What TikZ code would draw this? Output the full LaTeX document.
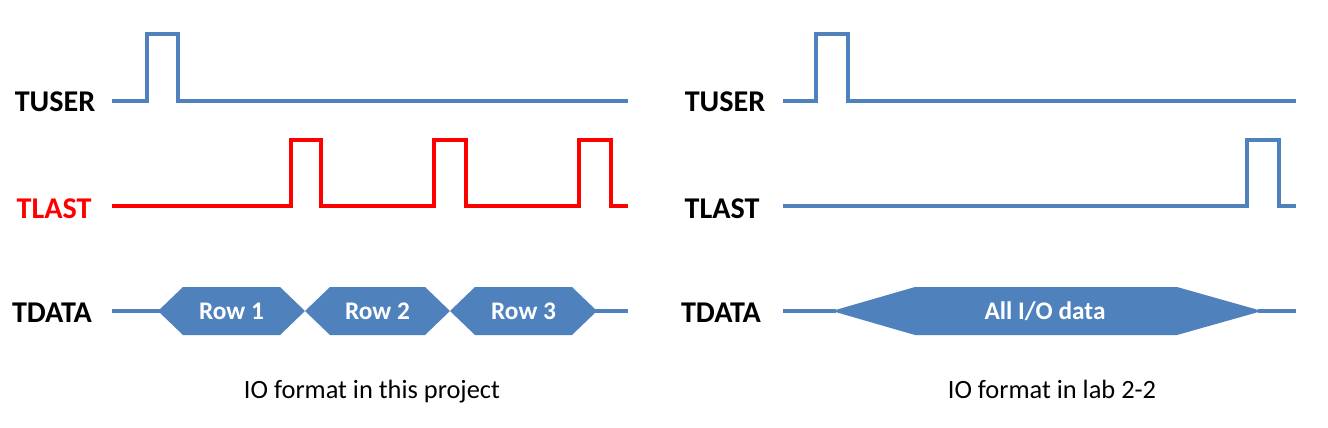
\documentclass[tikz,border=0pt]{standalone}
\usepackage{fontspec}
\setmainfont{Carlito}
\usepackage{tikz}
\usetikzlibrary{positioning}
\definecolor{sigblue}{RGB}{79,129,189}
\definecolor{sigred}{RGB}{255,0,0}

\begin{document}
\begin{tikzpicture}[x=0.75pt,y=-0.75pt,
  wave/.style={line width=3.4pt,line join=miter,draw=sigblue},
  sig/.style={anchor=base,font=\bfseries\fontsize{22.6}{25}\selectfont},
  rowtxt/.style={text=white,font=\bfseries\fontsize{19}{21}\selectfont},
  capt/.style={anchor=base,font=\fontsize{19.8}{22}\selectfont}]
  \useasboundingbox (0,0) rectangle (1328,428);
%  left panel: this project
  \node[sig] (uL) at (55,112) {TUSER};
  \node[sig,text=sigred] (lL) at (54,218) {TLAST};
  \node[sig] (dL) at (52,322) {TDATA};
  \draw[wave] (112,101) -- (147,101) -- (147,34) -- (178,34) -- (178,101) -- (628,101);
  \draw[wave,draw=sigred] (112,206) -- (291,206) -- (291,140) -- (321,140) -- (321,206)
     -- (434,206) -- (434,140) -- (466,140) -- (466,206)
     -- (579,206) -- (579,140) -- (611,140) -- (611,206) -- (628,206);
  \draw[wave] (112,311) -- (160,311);
  \draw[wave] (595,311) -- (628,311);
  \foreach \a/\b/\n/\t in {158/305/r1/Row 1,305/450/r2/Row 2,450/597/r3/Row 3}{
    \fill[sigblue] (\a,311) -- (\a+25,287) -- (\b-25,287) -- (\b,311) -- (\b-25,335) -- (\a+25,335) -- cycle;
    \node[rowtxt] (\n) at ({(\a+\b)/2},311) {\t};
  }
  \node[capt] (cL) at (372,398) {IO format in this project};
%  right panel: lab 2-2
  \node[sig] (uR) at (725,112) {TUSER};
  \node[sig] (lR) at (722,218) {TLAST};
  \node[sig] (dR) at (721,322) {TDATA};
  \draw[wave] (783,101) -- (816,101) -- (816,34) -- (848,34) -- (848,101) -- (1296,101);
  \draw[wave] (783,206) -- (1247,206) -- (1247,140) -- (1279,140) -- (1279,206) -- (1296,206);
  \draw[wave] (783,311) -- (836,311);
  \draw[wave] (1258,311) -- (1296,311);
  \fill[sigblue] (832,311) -- (915,287) -- (1177,287) -- (1262,311) -- (1177,335) -- (915,335) -- cycle;
  \node[rowtxt] (all) at (1045,311) {All I/O data};
  \node[capt] (cR) at (1052,398) {IO format in lab 2-2};
\end{tikzpicture}
\end{document}
